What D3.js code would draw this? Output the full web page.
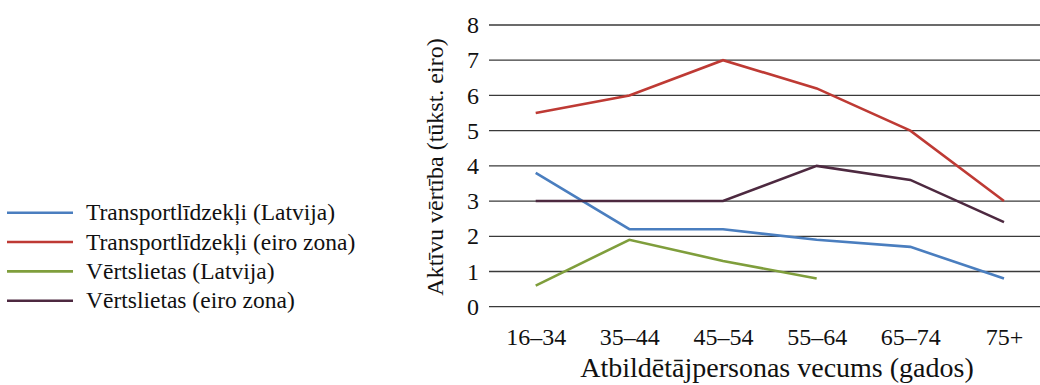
<!DOCTYPE html>
<html>
<head>
<meta charset="utf-8">
<script src="https://cdn.jsdelivr.net/npm/d3@7"></script>
<style>
  html, body { margin: 0; padding: 0; background: #fff; }
  #chart text { font-family: 'Liberation Serif' !important; }
</style>
</head>
<body>
<svg id="chart" width="1040" height="385" font-family="Liberation Serif"></svg>
<script>
// Age groups of the reference person
const categories = ["16–34", "35–44", "45–54", "55–64", "65–74", "75+"];

// Median asset value, thousand euro
const transportLatvia   = [3.8, 2.2, 2.2, 1.9, 1.7, 0.8];
const transportEuroArea = [5.5, 6.0, 7.0, 6.2, 5.0, 3.0];
const valuablesLatvia   = [0.6, 1.9, 1.3, 0.8, null, null];
const valuablesEuroArea = [3.0, 3.0, 3.0, 4.0, 3.6, 2.4];

const seriesNames = [
  "Transportlīdzekļi (Latvija)",
  "Transportlīdzekļi (eiro zona)",
  "Vērtslietas (Latvija)",
  "Vērtslietas (eiro zona)"
];
const seriesValues = [transportLatvia, transportEuroArea, valuablesLatvia, valuablesEuroArea];
const seriesColors = ["#4a7ebf", "#be3a34", "#7f9e3c", "#4d2940"];

const yTicks = [0, 1, 2, 3, 4, 5, 6, 7, 8];
const yTitle = "Aktīvu vērtība (tūkst. eiro)";
const xTitle = "Atbildētājpersonas vecums (gados)";

const FONT = "'Liberation Serif'";

const svg = d3.select("#chart");

const plotLeft = 489, plotRight = 1040;
const x = d3.scalePoint().domain(categories).range([535.7, 1004]);
const y = d3.scaleLinear().domain([0, 8]).range([306.7, 25]);

// Horizontal gridlines
svg.append("g")
  .selectAll("line")
  .data(yTicks)
  .join("line")
  .attr("x1", plotLeft).attr("x2", plotRight)
  .attr("y1", d => y(d)).attr("y2", d => y(d))
  .attr("stroke", "#3a3a3a")
  .attr("stroke-width", 1.3);

// Y axis tick labels
const yAxis = d3.axisLeft(y).tickValues(yTicks).tickSize(0).tickPadding(0).tickFormat(d3.format("d"));
const yg = svg.append("g").attr("transform", "translate(479,0)").call(yAxis);
yg.select(".domain").remove();
yg.attr("font-family", "Liberation Serif").attr("font-size", 24);
yg.selectAll("text")
  .style("font-family", FONT)
  .attr("font-size", 24)
  .attr("fill", "#111");

// X axis tick labels
const xAxis = d3.axisBottom(x).tickSize(0).tickPadding(0);
const xg = svg.append("g").attr("transform", "translate(0,328)").call(xAxis);
xg.select(".domain").remove();
xg.attr("font-family", "Liberation Serif").attr("font-size", 24);
xg.selectAll("text")
  .style("font-family", FONT)
  .attr("font-size", 24)
  .attr("fill", "#111");

// Axis titles
svg.append("text")
  .attr("x", 777).attr("y", 377)
  .attr("text-anchor", "middle")
  .style("font-family", FONT)
  .attr("font-size", 28)
  .attr("fill", "#111")
  .text(xTitle);

svg.append("text")
  .attr("transform", "translate(443,167) rotate(-90)")
  .attr("text-anchor", "middle")
  .style("font-family", FONT)
  .attr("font-size", 24)
  .attr("fill", "#111")
  .text(yTitle);

// Series lines
const line = d3.line()
  .defined(d => d.v !== null)
  .x(d => x(d.c))
  .y(d => y(d.v));

svg.append("g")
  .selectAll("path")
  .data(seriesValues)
  .join("path")
  .attr("d", vals => line(vals.map((v, i) => ({ c: categories[i], v }))))
  .attr("fill", "none")
  .attr("stroke", (d, i) => seriesColors[i])
  .attr("stroke-width", 2.6)
  .attr("stroke-linejoin", "miter");

// Legend
const legend = svg.append("g");
const legendY = d3.scaleLinear().domain([0, 3]).range([212.7, 300.7]);
const items = legend.selectAll("g")
  .data(seriesNames)
  .join("g")
  .attr("transform", (d, i) => `translate(0,${legendY(i)})`);
items.append("line")
  .attr("x1", 7).attr("x2", 73)
  .attr("stroke", (d, i) => seriesColors[i])
  .attr("stroke-width", 2.6);
items.append("text")
  .attr("x", 86).attr("y", 0)
  .attr("dy", "0.33em")
  .style("font-family", FONT)
  .attr("font-size", 23.5)
  .attr("fill", "#111")
  .text(d => d);
</script>
</body>
</html>
